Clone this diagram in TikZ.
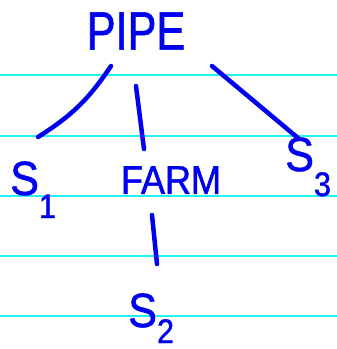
\documentclass[tikz,border=0pt]{standalone}
\usepackage{fontspec}
\newfontfamily\handfont[FakeStretch=0.8,FakeBold=1.2]{Liberation Sans}
\newfontfamily\handwide[FakeStretch=0.9,FakeBold=1.2]{Liberation Sans}
\definecolor{inkblue}{HTML}{0000F0}
\definecolor{rulecyan}{HTML}{22F2F2}

\begin{document}
\begin{tikzpicture}[x=1pt,y=-1pt,
  rule/.style={draw=rulecyan, line width=1.8pt},
  stroke/.style={draw=inkblue, line width=4.5pt, line cap=round},
  word/.style={inner sep=0pt, text=inkblue},
  sym/.style={inner sep=0pt, text=inkblue, anchor=base west, font=\handwide\fontsize{48}{48}\selectfont}
]
\useasboundingbox[fill=white] (0,0) rectangle (337,349);
% ruled paper
\foreach \y in {75,136,196,256,316}
  \draw[rule] (0,\y) -- (337,\y);

\node[word, font=\handfont\fontsize{54}{54}\selectfont] (pipe) at (136,31) {PIPE};
\node[word, font=\handwide\fontsize{40}{40}\selectfont] (farm) at (171,180) {FARM};
\node[sym] (s1) at (10,195) {S\raisebox{-23pt}{\fontsize{34}{34}\selectfont 1}};
\node[sym] (s3) at (285,171) {S\raisebox{-25pt}{\fontsize{34}{34}\selectfont 3}};
\node[sym] (s2) at (128,327) {S\raisebox{-16pt}{\fontsize{34}{34}\selectfont 2}};

\draw[stroke] ([shift={(-25,35)}]pipe.center) to[bend left=12] ([shift={(28,-58)}]s1.base west);
\draw[stroke] ([shift={(0,55)}]pipe.center) -- ([shift={(-27,-31)}]farm.center);
\draw[stroke] ([shift={(76,35)}]pipe.center) -- ([shift={(13,-33)}]s3.base west);
\draw[stroke] ([shift={(-19,35)}]farm.center) -- ([shift={(29,-63)}]s2.base west);
\end{tikzpicture}
\end{document}
